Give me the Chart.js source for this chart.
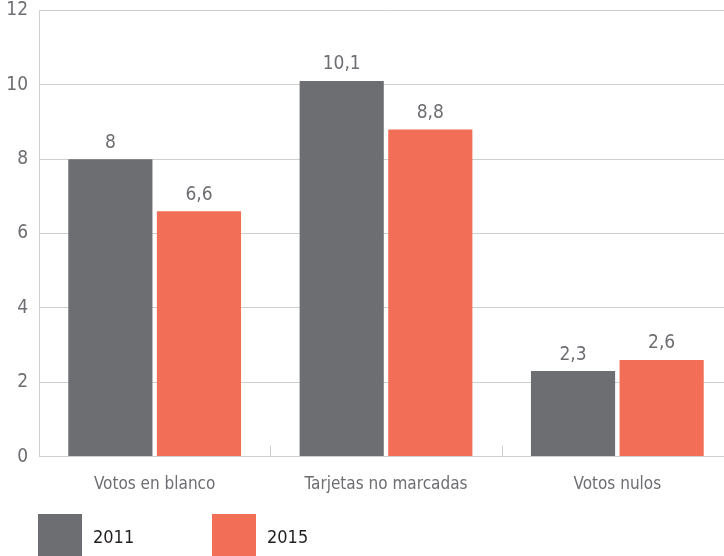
<!DOCTYPE html>
<html>
<head>
<meta charset="utf-8">
<script src="https://cdn.jsdelivr.net/npm/chart.js@4"></script>
<style>
  html, body { margin: 0; padding: 0; background: #fff; overflow: hidden; }
  #wrap { position: relative; width: 733px; height: 568px; margin-top: -12px; }
</style>
</head>
<body>
<div id="wrap"><canvas id="myChart"></canvas></div>
<script>
const categories = ["Votos en blanco", "Tarjetas no marcadas", "Votos nulos"];
const seriesNames = ["2011", "2015"];
const values2011 = [8, 10.1, 2.3];
const values2015 = [6.6, 8.8, 2.6];
const yTicks = [0, 2, 4, 6, 8, 10, 12];

const FONT = "'Liberation Sans Narrow', 'DejaVu Sans Condensed', 'Roboto', sans-serif";
const GRAY = "#6d6e72";
const CORAL = "#f26e56";
const GRID = "#cfcfcf";

// numbers above the bars, comma as decimal mark
const valueLabels = {
  id: "valueLabels",
  afterDatasetsDraw(chart) {
    const ctx = chart.ctx;
    ctx.save();
    ctx.font = "19px " + FONT;
    ctx.fillStyle = GRAY;
    ctx.textAlign = "center";
    ctx.textBaseline = "bottom";
    chart.data.datasets.forEach((ds, i) => {
      chart.getDatasetMeta(i).data.forEach((bar, j) => {
        const txt = String(ds.data[j]).replace(".", ",");
        ctx.fillText(txt, bar.x, bar.y - 7);
      });
    });
    ctx.restore();
  },
};

// small marks between categories, pointing up from the axis
const boundaryTicks = {
  id: "boundaryTicks",
  afterDraw(chart) {
    const x = chart.scales.x;
    const ctx = chart.ctx;
    ctx.save();
    ctx.strokeStyle = GRID;
    ctx.lineWidth = 1;
    for (let i = 0; i < categories.length - 1; i++) {
      const px = Math.round((x.getPixelForTick(i) + x.getPixelForTick(i + 1)) / 2) + 0.5;
      ctx.beginPath();
      ctx.moveTo(px, x.top - 11);
      ctx.lineTo(px, x.top);
      ctx.stroke();
    }
    ctx.restore();
  },
};

// legend with big squares at the bottom
const bottomLegend = {
  id: "bottomLegend",
  afterDraw(chart) {
    const ctx = chart.ctx;
    const xs = [38, 212];
    const top = chart.height - 42;
    ctx.save();
    ctx.font = "18px " + FONT;
    ctx.textBaseline = "middle";
    ctx.textAlign = "left";
    chart.data.datasets.forEach((ds, i) => {
      ctx.fillStyle = ds.backgroundColor;
      ctx.fillRect(xs[i], top, 44, 42);
      ctx.fillStyle = "#231f20";
      ctx.fillText(ds.label, xs[i] + 55, top + 24);
    });
    ctx.restore();
  },
};

const myChart = new Chart(document.querySelector("#myChart"), {
  type: "bar",
  data: {
    labels: categories,
    datasets: [
      { label: seriesNames[0], data: values2011, backgroundColor: GRAY },
      { label: seriesNames[1], data: values2015, backgroundColor: CORAL },
    ],
  },
  options: {
    responsive: true,
    maintainAspectRatio: false,
    animation: false,
    categoryPercentage: 0.766,
    barPercentage: 0.95,
    layout: { padding: { top: 0, bottom: 51, left: 0, right: 0 } },
    plugins: {
      legend: { display: false },
      tooltip: { enabled: false },
    },
    scales: {
      x: {
        grid: { display: false },
        border: { display: true, color: GRID, width: 1 },
        ticks: { color: GRAY, font: { family: FONT, size: 17 }, padding: 10 },
      },
      y: {
        min: 0,
        max: 12,
        afterBuildTicks: (s) => { s.ticks = yTicks.map((v) => ({ value: v })); },
        afterFit: (s) => { s.width = 39; },
        grid: { color: GRID, drawTicks: false },
        border: { display: true, color: GRID, width: 1 },
        ticks: { color: GRAY, font: { family: FONT, size: 19 }, padding: 11 },
      },
    },
  },
  plugins: [valueLabels, boundaryTicks, bottomLegend],
});
</script>
</body>
</html>
